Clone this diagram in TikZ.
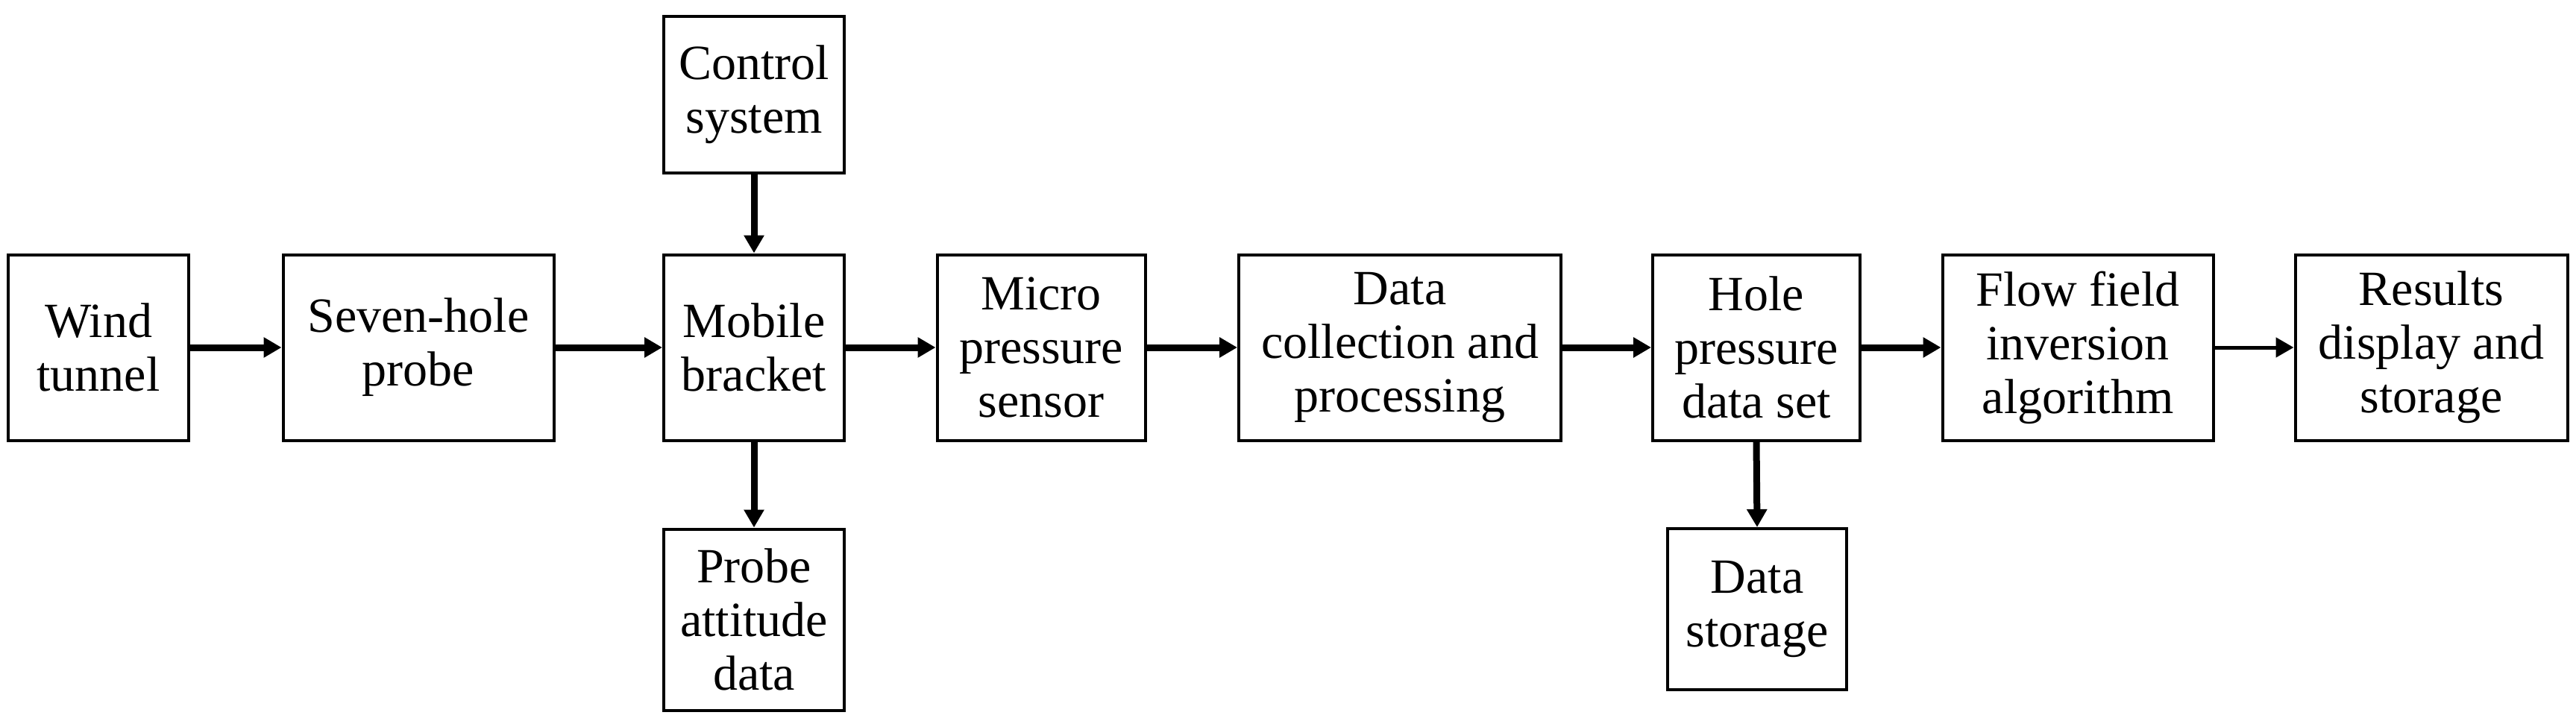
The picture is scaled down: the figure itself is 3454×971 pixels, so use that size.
\documentclass[tikz,border=0pt]{standalone}
\usepackage{fontspec}
\setmainfont{Liberation Serif}
\usetikzlibrary{arrows.meta}
\begin{document}
\begin{tikzpicture}[x=1pt,y=-1pt,
 box/.style={draw,line width=4pt,align=center,inner sep=0pt,minimum height=249pt,font=\fontsize{66}{72}\selectfont},
 arr/.style={line width=9pt,-{Triangle[length=24pt,width=26pt]}}]
\useasboundingbox (0,0) rectangle (3454,971);
\node[box,minimum width=242pt] (wt) at (132,466) {Wind\\tunnel};
\node[box,minimum width=363pt] (sp) at (561,466) {Seven-hole\\probe};
\node[box,minimum width=242pt,minimum height=209pt] (cs) at (1011,127) {Control\\system};
\node[box,minimum width=242pt] (mb) at (1011,466) {Mobile\\bracket};
\node[box,minimum width=242pt,minimum height=243pt] (pa) at (1011,831) {Probe\\attitude\\data};
\node[box,minimum width=279pt] (mp) at (1396,466) {Micro\\pressure\\sensor};
\node[box,minimum width=432pt] (dc) at (1877,466) {Data\\collection and\\processing};
\node[box,minimum width=278pt] (hp) at (2355,466) {Hole\\pressure\\data set};
\node[box,minimum width=240pt,minimum height=216pt] (ds) at (2356,817) {Data\\storage};
\node[box,minimum width=363pt] (ff) at (2786,466) {Flow field\\inversion\\algorithm};
\node[box,minimum width=365pt] (rd) at (3260,466) {Results\\display and\\storage};
\draw[arr] (wt) -- (sp);
\draw[arr] (sp) -- (mb);
\draw[arr] (cs) -- (mb);
\draw[arr] (mb) -- (pa);
\draw[arr] (mb) -- (mp);
\draw[arr] (mp) -- (dc);
\draw[arr] (dc) -- (hp);
\draw[arr] (hp.south) -- (ds.north);
\draw[arr] (hp) -- (ff);
\draw[arr,line width=5pt] (ff) -- (rd);
\end{tikzpicture}
\end{document}
